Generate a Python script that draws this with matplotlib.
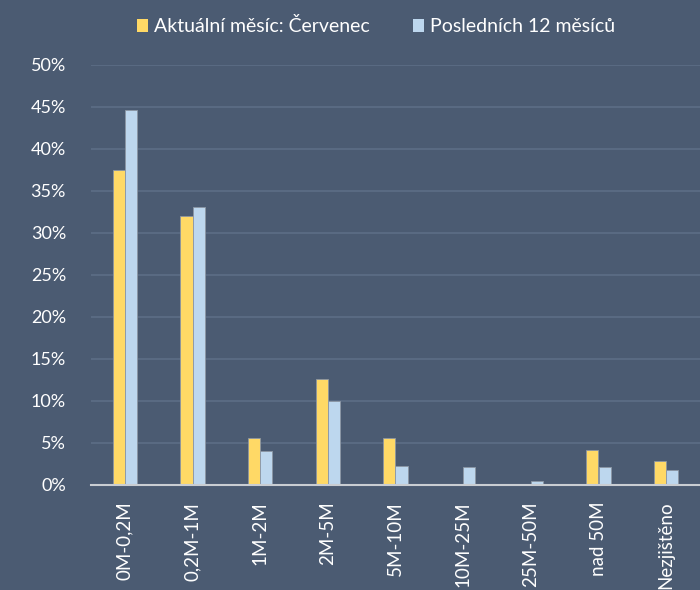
import matplotlib.pyplot as plt
import matplotlib.ticker as mtick
import numpy as np

plt.rcParams['font.family'] = ['Lato', 'DejaVu Sans']

## data
categories = ['0M-0,2M', '0,2M-1M', '1M-2M', '2M-5M', '5M-10M',
              '10M-25M', '25M-50M', 'nad 50M', 'Nezjištěno']
current = [37.5, 32.0, 5.6, 12.6, 5.6, 0.0, 0.0, 4.2, 2.8]
last12 = [44.6, 33.1, 4.0, 10.0, 2.3, 2.1, 0.5, 2.1, 1.8]
yticks = [0, 5, 10, 15, 20, 25, 30, 35, 40, 45, 50]

bg = '#4B5B72'
yellow = '#FFD966'
blue = '#BDD7EE'

fig = plt.figure(figsize=(7, 5.9), dpi=100, facecolor=bg)
ax = fig.add_axes([0.13, 0.178, 0.87, 0.712], facecolor=bg)

x = np.arange(len(categories))
w = 0.18
ax.bar(x - w/2, current, w, color=yellow, edgecolor='#8C96A3', linewidth=0.6,
       label='Aktuální měsíc: Červenec', zorder=3)
ax.bar(x + w/2, last12, w, color=blue, edgecolor='#8C96A3', linewidth=0.6,
       label='Posledních 12 měsíců', zorder=3)

ax.set_xlim(-0.5, len(categories) - 0.5)
ax.set_ylim(0, 50)
ax.set_yticks(yticks)
ax.yaxis.set_major_formatter(mtick.FuncFormatter(lambda v, p: f'{v:.0f}%'))
ax.set_xticks(x)
ax.set_xticklabels(categories, rotation=90, fontsize=13.5, color='white')
ax.tick_params(axis='y', labelsize=13, colors='white', length=0, pad=18)
ax.tick_params(axis='x', length=0, pad=12)

ax.grid(axis='y', color='#5D6E86', linewidth=1.2, zorder=0)
for s in ['top', 'right', 'left']:
    ax.spines[s].set_visible(False)
ax.spines['bottom'].set_color('#C9CDD2')
ax.spines['bottom'].set_linewidth(1.5)
ax.spines['bottom'].set_zorder(4)

leg = fig.legend(loc='upper center', bbox_to_anchor=(0.537, 1.0), ncol=2,
                 frameon=False, fontsize=14, handlelength=0.6, handleheight=0.7,
                 handletextpad=0.3, columnspacing=2.2)
for t in leg.get_texts():
    t.set_color('white')
for h in leg.legend_handles:
    h.set_edgecolor('none')

fig.savefig('out.png', facecolor=bg)
